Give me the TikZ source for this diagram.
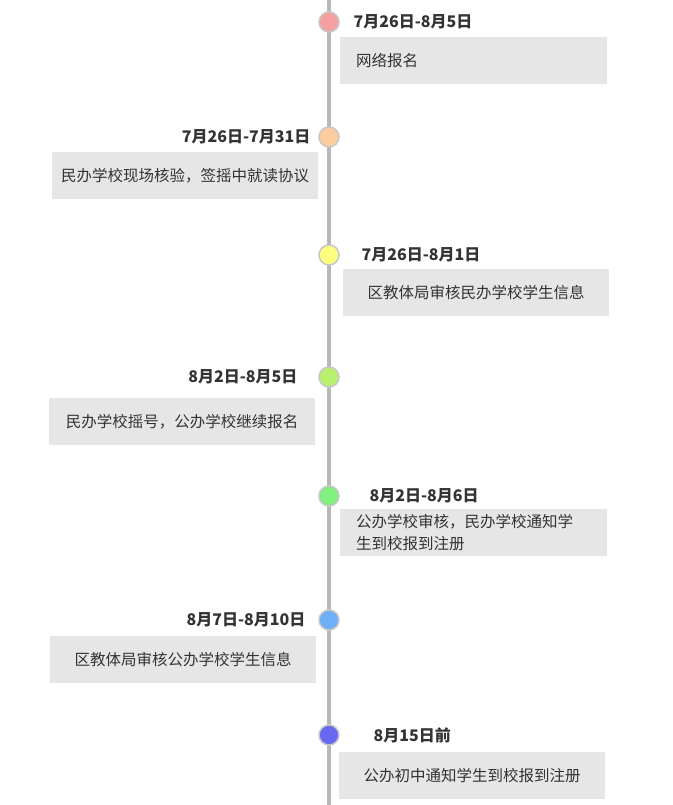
\documentclass[tikz,border=0pt]{standalone}
\usepackage{fontspec}
\setmainfont{Noto Sans CJK SC}
\begin{document}
\begin{tikzpicture}[x=1pt,y=-1pt,
  box/.style={fill=boxgray,draw=none,minimum width=266pt,minimum height=47pt,font=\fontsize{15.5}{22}\selectfont,text=txt},
  dt/.style={font=\fontsize{16}{18}\bfseries\selectfont,text=txt},
  dot/.style={circle,draw=black!22,line width=1.5pt,minimum size=20pt,inner sep=0pt}]
\definecolor{boxgray}{HTML}{E6E6E6}
\definecolor{txt}{HTML}{333333}
\useasboundingbox (0,0) rectangle (672,805);
\coordinate (top) at (329,0);
\coordinate (bot) at (329,805);
\draw[line width=4pt,color=black!28] (top) -- (bot);
\node[dot,fill={rgb,255:red,244;green,160;blue,160}] (c1) at (329,22) {};
\node[dot,fill={rgb,255:red,250;green,204;blue,158}] (c2) at (329,137) {};
\node[dot,fill={rgb,255:red,255;green,255;blue,128}] (c3) at (329,255) {};
\node[dot,fill={rgb,255:red,186;green,240;blue,112}] (c4) at (329,377) {};
\node[dot,fill={rgb,255:red,128;green,240;blue,128}] (c5) at (329,496) {};
\node[dot,fill={rgb,255:red,110;green,176;blue,248}] (c6) at (329,620) {};
\node[dot,fill={rgb,255:red,104;green,104;blue,240}] (c7) at (329,735) {};
\node[dt,anchor=west] (d1) at (350,22) {7月26日-8月5日};
\node[dt,anchor=east] (d2) at (314,137) {7月26日-7月31日};
\node[dt,anchor=west] (d3) at (358,255) {7月26日-8月1日};
\node[dt,anchor=east] (d4) at (301,377) {8月2日-8月5日};
\node[dt,anchor=west] (d5) at (366,496) {8月2日-8月6日};
\node[dt,anchor=east] (d6) at (309,620) {8月7日-8月10日};
\node[dt,anchor=west] (d7) at (370,735) {8月15日前};
\node[box,anchor=north west,text width=235pt,inner xsep=16pt,align=left] (b1) at (340,37) {网络报名};
\node[box,anchor=north west] (b2) at (52,152) {民办学校现场核验，签摇中就读协议};
\node[box,anchor=north west] (b3) at (343,269) {区教体局审核民办学校学生信息};
\node[box,anchor=north west] (b4) at (49,398) {民办学校摇号，公办学校继续报名};
\node[box,anchor=north west,text width=235pt,inner xsep=16pt,inner ysep=2pt,align=left] (b5) at (340,509) {公办学校审核，民办学校通知学\\生到校报到注册};
\node[box,anchor=north west] (b6) at (50,636) {区教体局审核公办学校学生信息};
\node[box,anchor=north west] (b7) at (339,752) {公办初中通知学生到校报到注册};
\end{tikzpicture}
\end{document}
